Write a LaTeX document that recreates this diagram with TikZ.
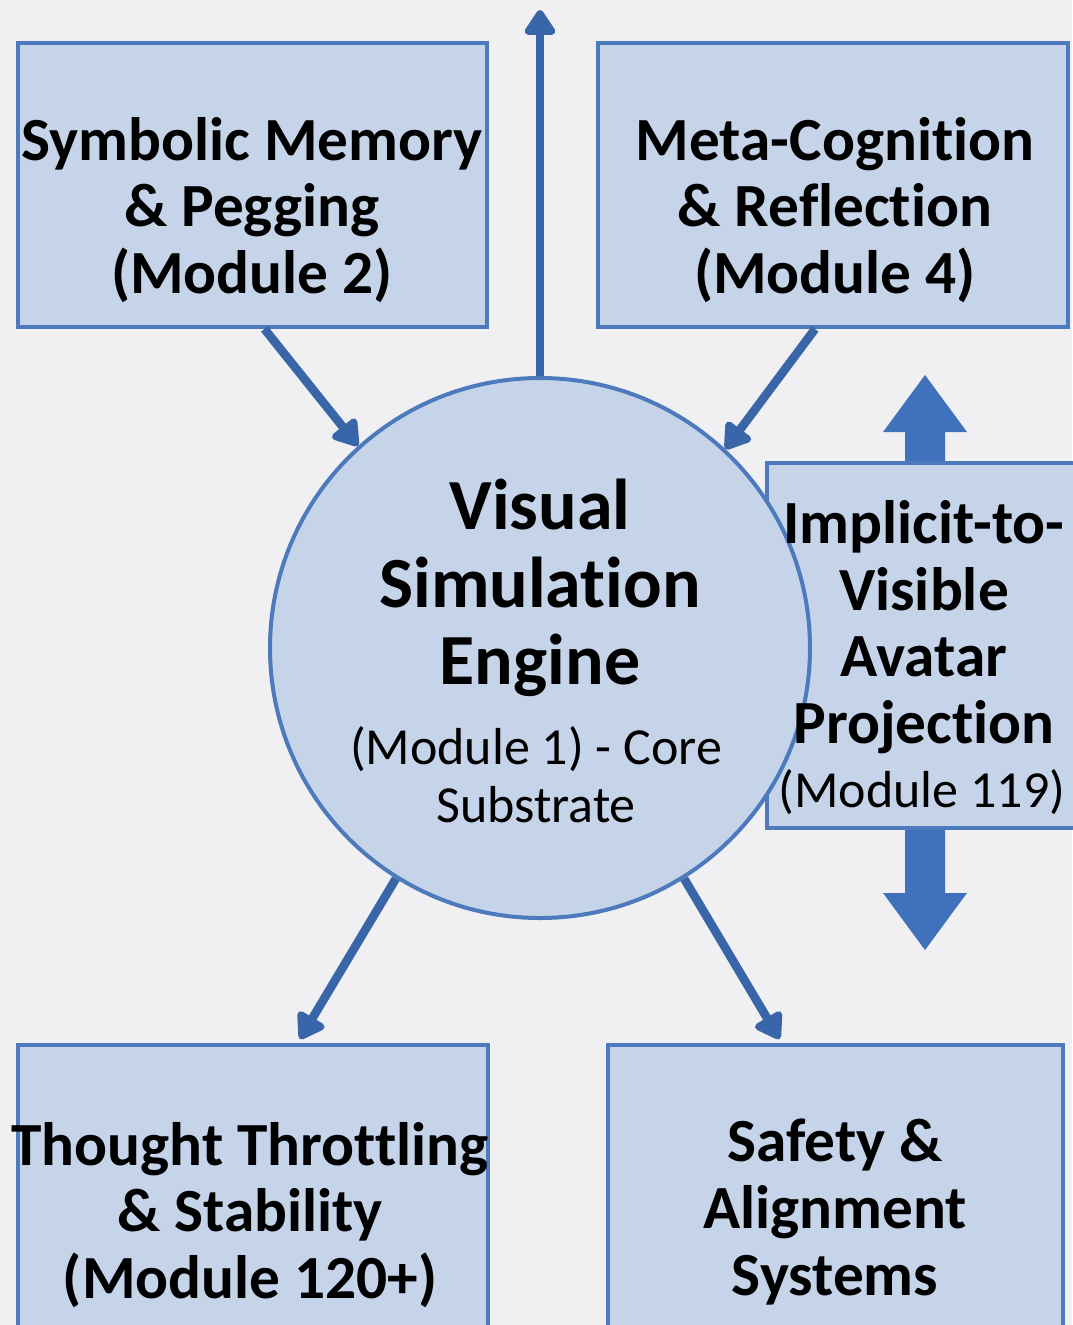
\documentclass[tikz,border=0pt]{standalone}
\usepackage{fontspec}
\setmainfont{Carlito}[Ligatures=NoCommon]
\usetikzlibrary{arrows.meta,calc}
\definecolor{bgc}{RGB}{240,240,242}
\definecolor{boxfill}{RGB}{198,212,234}
\definecolor{boxline}{RGB}{76,122,188}
\definecolor{arrc}{RGB}{56,102,168}
\definecolor{bigarr}{RGB}{64,114,188}
\begin{document}
\begin{tikzpicture}[x=0.75pt,y=-0.75pt,
  box/.style={draw=boxline,fill=boxfill,line width=3pt,inner sep=0pt},
  ttl/.style={font=\fontsize{46}{50}\selectfont\bfseries,align=center,inner sep=0pt},
  sub/.style={font=\fontsize{39}{43.5}\selectfont,align=center,inner sep=0pt},
  conn/.style={draw=arrc,line width=6.5pt,-{Triangle[round,width=26pt,length=21pt]}},
]
\fill[bgc] (0,0) rectangle (1072,1325);
\useasboundingbox (0,0) rectangle (1072,1325);
% big double arrow behind avatar box
\fill[bigarr] (925,375) -- (967,432) -- (945,432) -- (945,893) -- (967,893) -- (925,950)
  -- (883,893) -- (905,893) -- (905,432) -- (883,432) -- cycle;
% boxes
\node[box,minimum width=351.75pt,minimum height=213pt] (tl) at (252.5,185) {};
\node[box,minimum width=352.5pt,minimum height=213pt] (tr) at (833,185) {};
\node[box,minimum width=231pt,minimum height=273.75pt] (av) at (921,645.5) {};
\node[box,minimum width=352.5pt,minimum height=221.25pt] (bl) at (253,1192.5) {};
\node[box,minimum width=341.25pt,minimum height=221.25pt] (br) at (835.5,1192.5) {};
\node[box,circle,minimum size=405pt] (c) at (540,648) {};
% texts
\node[ttl] (tlt) at (252,210) {Symbolic Memory\\\& Pegging\\(Module 2)};
\node[ttl] (trt) at (835,210) {Meta-Cognition\\\& Reflection\\(Module 4)};
\node[ttl] (avt) at (924,627) {Implicit-to-\\Visible\\Avatar\\Projection};
\node[sub] (avs) at (922,792) {(Module 119)};
\node[ttl,font=\fontsize{54}{58}\selectfont\bfseries] (ct) at (540,588) {Visual\\Simulation\\Engine};
\node[sub] (cs) at (536,775) {(Module 1) - Core\\Substrate};
\node[ttl] (blt) at (250,1215) {Thought Throttling\\\& Stability\\(Module 120+)};
\node[ttl] (brt) at (835,1212) {Safety \&\\Alignment\\Systems};
% connectors
\coordinate (topend) at (540,10);
\draw[conn] (c.north) -- (topend);
\draw[conn] ($(tl.south)+(12,0)$) -- (c.132);
\draw[conn] ($(tr.south)+(-18,0)$) -- (c.47);
\draw[conn] (c.238) -- ($(bl.north)+(47,-4)$);
\draw[conn] (c.302) -- ($(br.north)+(-56,-4)$);
\end{tikzpicture}
\end{document}
